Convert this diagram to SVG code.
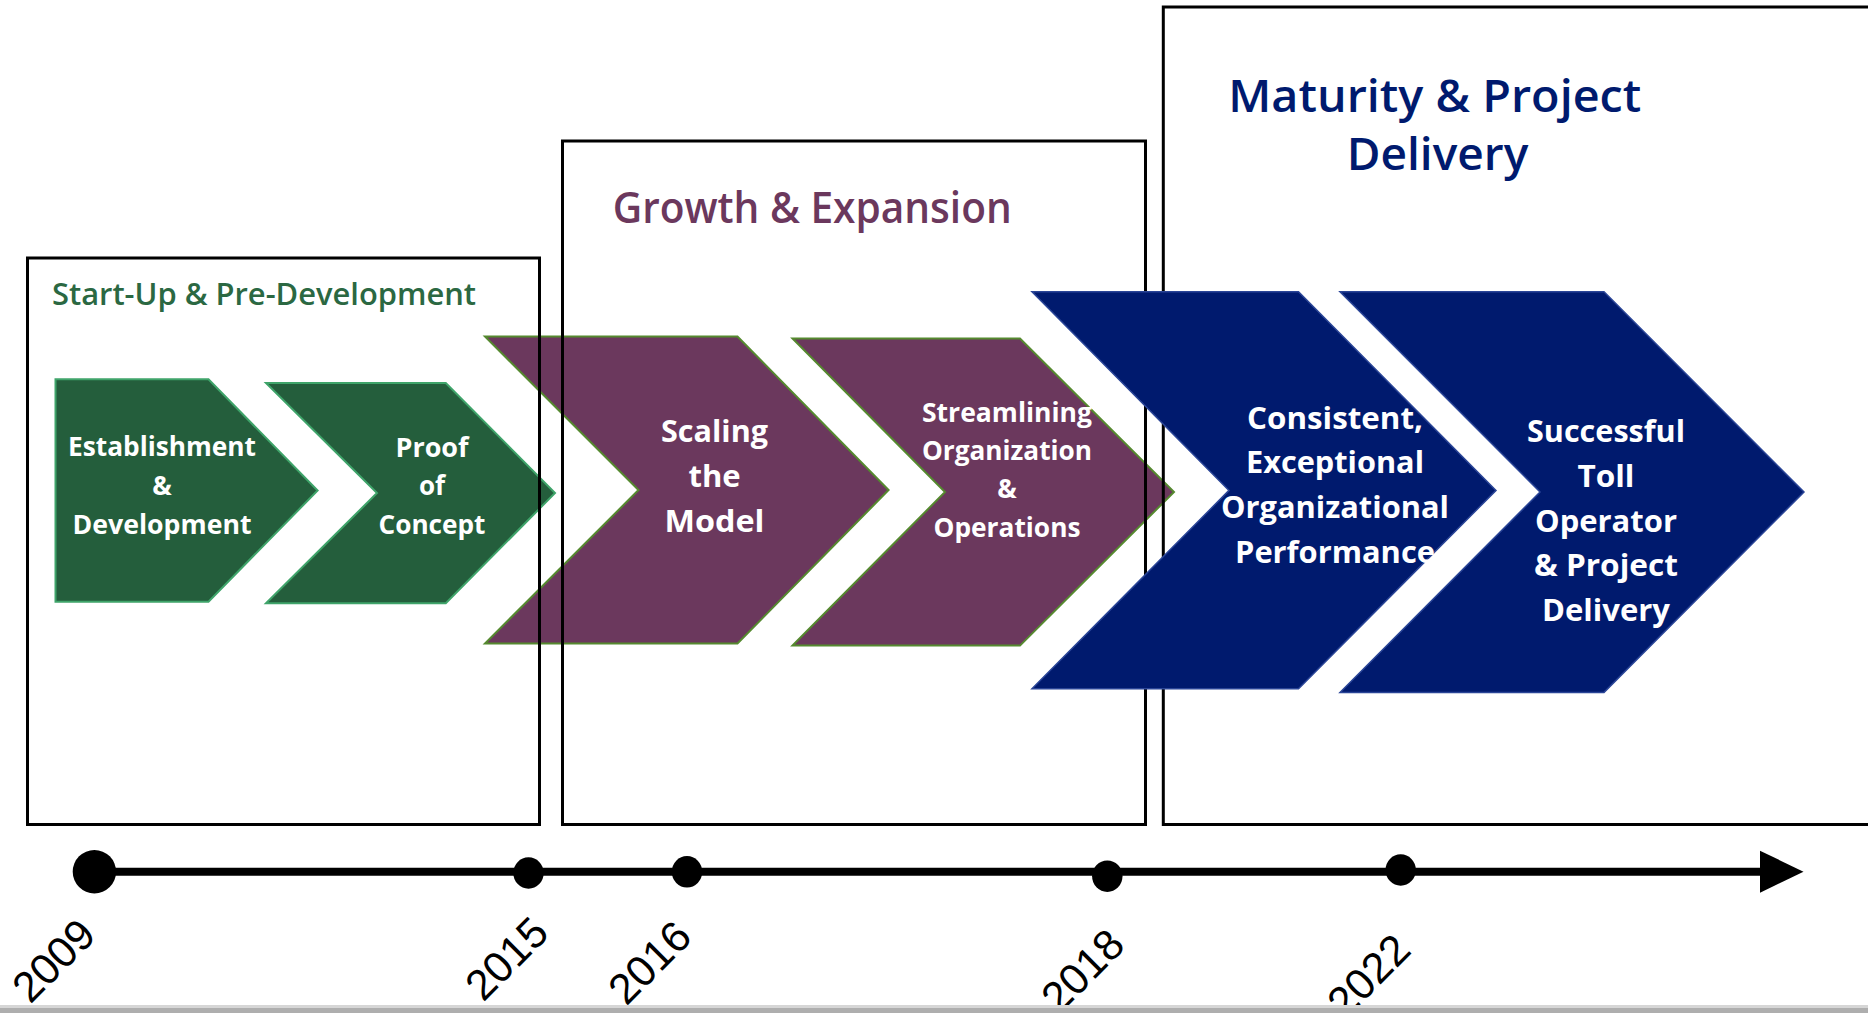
<svg xmlns="http://www.w3.org/2000/svg" width="1868" height="1013" viewBox="0 0 1868 1013">
<style>
.bg{fill:#ffffff}
.box{fill:none;stroke:#000;stroke-width:3}
.green{fill:#245E3C;stroke:#3FA46A;stroke-width:2}
.purple{fill:#6B385D;stroke:#55892F;stroke-width:2}
.blue{fill:#001A6E;stroke:#2A4597;stroke-width:1.5}
.lbl{font-family:"Open Sans","Noto Sans","DejaVu Sans",sans-serif;font-weight:700;fill:#fff;text-anchor:middle}
.s26{font-size:26px}
.s31{font-size:31px}
.ttl{font-family:"Open Sans","Noto Sans","DejaVu Sans",sans-serif;font-weight:600}
.yr{font-family:"Liberation Sans","DejaVu Sans",sans-serif;font-size:43px;fill:#000;text-anchor:middle}
.dot{fill:#000}
</style>
<rect class="bg" x="0" y="0" width="1868" height="1013"/>

<g id="chevron-establishment">
<polygon class="green" points="55.5,379.3 208.5,379.3 317.6,490.5 208.5,601.7 55.5,601.7"/>
<text class="lbl s26" x="162" y="456" textLength="188" lengthAdjust="spacingAndGlyphs">Establishment</text>
<text class="lbl s26" x="162" y="495">&amp;</text>
<text class="lbl s26" x="162" y="533.5" textLength="179" lengthAdjust="spacingAndGlyphs">Development</text>
</g>
<g id="chevron-proof">
<polygon class="green" points="266,383 445.8,383 555,493 445.8,603.3 266,603.3 377,493"/>
<text class="lbl s26" x="432" y="457" textLength="73" lengthAdjust="spacingAndGlyphs">Proof</text>
<text class="lbl s26" x="432" y="495">of</text>
<text class="lbl s26" x="432" y="534" textLength="107" lengthAdjust="spacingAndGlyphs">Concept</text>
</g>
<g id="chevron-scaling">
<polygon class="purple" points="485,336.5 737.5,336.5 888.6,490 737.5,643.5 485,643.5 638.5,490"/>
<text class="lbl s31" x="714.5" y="442" textLength="107" lengthAdjust="spacingAndGlyphs">Scaling</text>
<text class="lbl s31" x="714.5" y="487">the</text>
<text class="lbl s31" x="714.5" y="531.5" textLength="100" lengthAdjust="spacingAndGlyphs">Model</text>
</g>
<g id="chevron-streamlining">
<polygon class="purple" points="792.5,338.5 1020,338.5 1174,492 1020,645.6 792.5,645.6 945,492"/>
<text class="lbl s26" x="1007" y="422" textLength="170" lengthAdjust="spacingAndGlyphs">Streamlining</text>
<text class="lbl s26" x="1007" y="460" textLength="170" lengthAdjust="spacingAndGlyphs">Organization</text>
<text class="lbl s26" x="1007" y="498">&amp;</text>
<text class="lbl s26" x="1007" y="536.5" textLength="147" lengthAdjust="spacingAndGlyphs">Operations</text>
</g>

<g id="phase-startup">
<rect class="box" x="27.5" y="258" width="512" height="566.5"/>
<text class="ttl" x="52" y="305" font-size="30" fill="#2B6842" textLength="424" lengthAdjust="spacingAndGlyphs">Start-Up &amp; Pre-Development</text>
</g>
<g id="phase-growth">
<rect class="box" x="562.5" y="141" width="583" height="683.5"/>
<text class="ttl" x="612.7" y="223.3" font-size="43" fill="#6B385D" textLength="399" lengthAdjust="spacingAndGlyphs">Growth &amp; Expansion</text>
</g>
<g id="phase-maturity">
<path class="box" d="M1880,7 H1163.3 V824.5 H1880"/>
<text class="ttl" x="1228.3" y="111.7" font-size="46" fill="#001A6E" textLength="413" lengthAdjust="spacingAndGlyphs">Maturity &amp; Project</text>
<text class="ttl" x="1346.7" y="170" font-size="46" fill="#001A6E" textLength="181.6" lengthAdjust="spacingAndGlyphs">Delivery</text>
</g>

<g id="chevron-consistent">
<polygon class="blue" points="1032,291.7 1298.5,291.7 1496,490.4 1298.5,688.7 1032,688.7 1229,490.4"/>
<text class="lbl s31" x="1335" y="429" textLength="176" lengthAdjust="spacingAndGlyphs">Consistent,</text>
<text class="lbl s31" x="1335" y="473" textLength="178" lengthAdjust="spacingAndGlyphs">Exceptional</text>
<text class="lbl s31" x="1335" y="518" textLength="228" lengthAdjust="spacingAndGlyphs">Organizational</text>
<text class="lbl s31" x="1335" y="562.5" textLength="200" lengthAdjust="spacingAndGlyphs">Performance</text>
</g>
<g id="chevron-successful">
<polygon class="blue" points="1340,291.7 1604,291.7 1804,492 1604,692.4 1340,692.4 1540,492"/>
<text class="lbl s31" x="1606" y="442" textLength="158" lengthAdjust="spacingAndGlyphs">Successful</text>
<text class="lbl s31" x="1606" y="487" textLength="57" lengthAdjust="spacingAndGlyphs">Toll</text>
<text class="lbl s31" x="1606" y="532" textLength="142" lengthAdjust="spacingAndGlyphs">Operator</text>
<text class="lbl s31" x="1606" y="576" textLength="144" lengthAdjust="spacingAndGlyphs">&amp; Project</text>
<text class="lbl s31" x="1606" y="621" textLength="128" lengthAdjust="spacingAndGlyphs">Delivery</text>
</g>

<g id="connectors">
<line x1="94" y1="871.7" x2="1762" y2="871.7" stroke="#000" stroke-width="8"/>
<polygon points="1760,850.7 1803.5,871.7 1760,892.7" fill="#000"/>
</g>

<g id="milestone-2009">
<circle class="dot" cx="94.4" cy="871.7" r="21.7"/>
<text class="yr" transform="translate(64,971) rotate(-45)">2009</text>
</g>
<g id="milestone-2015">
<ellipse class="dot" cx="528.5" cy="873" rx="15.2" ry="15.7"/>
<text class="yr" transform="translate(517,969) rotate(-45)">2015</text>
</g>
<g id="milestone-2016">
<ellipse class="dot" cx="687" cy="871.8" rx="15.2" ry="15.7"/>
<text class="yr" transform="translate(660,973) rotate(-45)">2016</text>
</g>
<g id="milestone-2018">
<ellipse class="dot" cx="1107.3" cy="876.2" rx="15.2" ry="15.7"/>
<text class="yr" transform="translate(1093,981) rotate(-45)">2018</text>
</g>
<g id="milestone-2022">
<ellipse class="dot" cx="1400.7" cy="870" rx="15.2" ry="15.7"/>
<text class="yr" transform="translate(1379,986) rotate(-45)">2022</text>
</g>

<rect x="0" y="1005" width="1868" height="3" fill="#D6D6D6"/>
<rect x="0" y="1008" width="1868" height="5" fill="#AEAEAE"/>
</svg>
